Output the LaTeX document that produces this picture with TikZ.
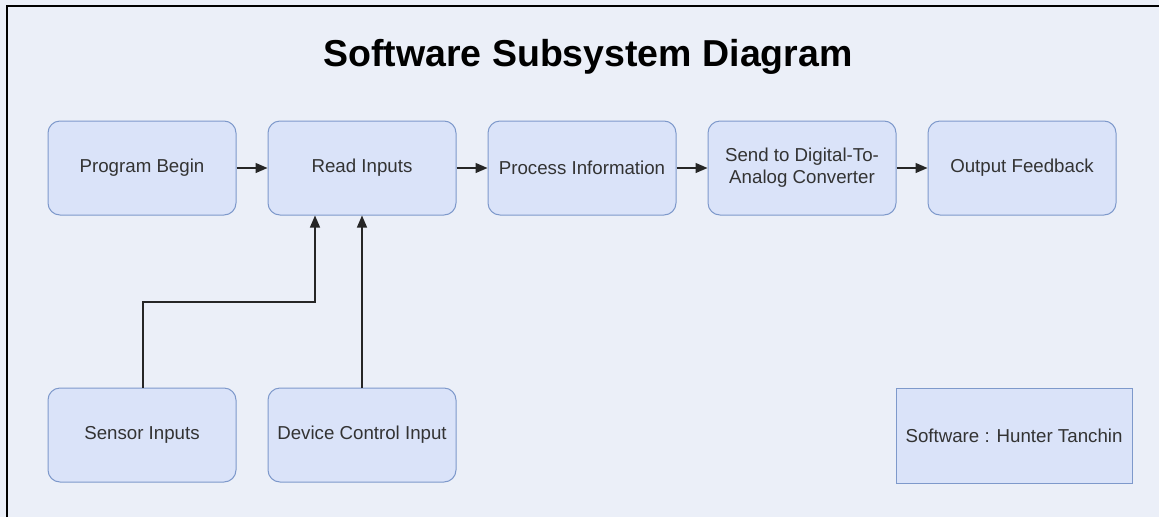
\documentclass[tikz,border=0pt]{standalone}
\usepackage{fontspec}
\setmainfont{Liberation Sans}
\usetikzlibrary{arrows.meta}
\definecolor{bg}{HTML}{EBEFF8}
\definecolor{boxfill}{HTML}{DAE3F9}
\definecolor{boxline}{HTML}{7E99CB}
\definecolor{txt}{HTML}{333333}
\begin{document}
\begin{tikzpicture}[x=1pt,y=-1pt,
  blk/.style={draw=boxline,fill=boxfill,line width=1pt,rounded corners=12pt,minimum width=188pt,minimum height=94pt,inner sep=0pt,align=center,text=txt,font=\fontsize{18.7}{22}\selectfont},
  sq/.style={draw=boxline,fill=boxfill,line width=1pt,minimum width=236pt,minimum height=95pt,inner sep=0pt,align=center,text=txt,font=\fontsize{18.7}{22}\selectfont},
  conn/.style={draw=black!85,line width=1.3pt,-{Triangle[length=12pt,width=10pt]}}]
\fill[bg] (0,0) rectangle (1159,517);
\useasboundingbox (0,0) rectangle (1159,517);
\draw[black,line width=2.5pt] (7,517) -- (7,6) -- (1159,6);
\node[font=\bfseries\fontsize{37.5}{42}\selectfont] (title) at (588,57) {Software Subsystem Diagram};
\node[blk] (begin) at (142,168) {Program Begin};
\node[blk] (read) at (362,168) {Read Inputs};
\node[blk] (proc) at (582,168) {Process Information};
\node[blk] (dac) at (802,168) {Send to Digital-To-\\Analog Converter};
\node[blk] (out) at (1022,168) {Output Feedback};
\node[blk] (sens) at (142,435) {Sensor Inputs};
\node[blk] (dev) at (362,435) {Device Control Input};
\node[sq] (sw) at (1014,435.5) {Software : Hunter Tanchin};
\draw[conn] (begin) -- (read);
\draw[conn] (read) -- (proc);
\draw[conn] (proc) -- (dac);
\draw[conn] (dac) -- (out);
\coordinate (bend1) at (143,302);
\coordinate (bend2) at (315,302);
\draw[conn] (sens.north -| bend1) -- (bend1) -- (bend2) -- (read.south -| bend2);
\draw[conn] (dev.north) -- (read.south);
\end{tikzpicture}
\end{document}
